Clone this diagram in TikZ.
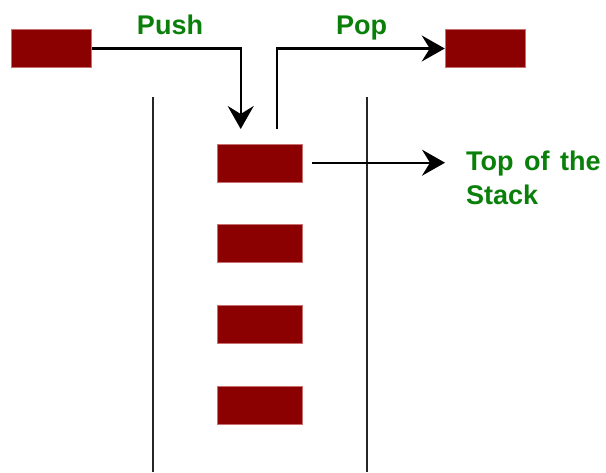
\documentclass[tikz,border=0pt]{standalone}
\usepackage{fontspec}
\setmainfont{Liberation Sans}
\usetikzlibrary{arrows.meta}
\definecolor{boxred}{RGB}{139,0,0}
\definecolor{boxedge}{RGB}{200,110,110}
\definecolor{labgreen}{RGB}{10,128,10}
\newcommand{\mylabfont}{\bfseries\fontsize{27}{34}\selectfont\spaceskip=10.5pt\relax}
\tikzset{
  item/.style={rectangle, fill=boxred, draw=boxedge, line width=0.5pt, minimum width=80pt, minimum height=38pt, inner sep=0pt},
  sitem/.style={item, minimum width=85pt},
  lab/.style={text=labgreen, font=\mylabfont, inner sep=0pt},
  conn/.style={line width=2.2pt, draw=black},
  wall/.style={line width=2.2pt, draw=black!85},
  tip/.style={-{Stealth[length=23pt,width=26pt,inset=8pt]}}
}
\begin{document}
\begin{tikzpicture}[x=1pt,y=-1pt]
\useasboundingbox[fill=white] (0,0) rectangle (606,472);
% walls
\coordinate (wl1) at (153.3,97);
\coordinate (wl2) at (153.3,472);
\coordinate (wr1) at (366.7,97);
\coordinate (wr2) at (366.7,472);
\draw[wall] (wl1) -- (wl2);
\draw[wall] (wr1) -- (wr2);
% outside boxes
\node[item] (lbox) at (51.7,48.5) {};
\node[item] (rbox) at (485,48.5) {};
% stack boxes
\node[sitem] (s1) at (260.2,163) {};
\node[sitem] (s2) at (260.2,243.5) {};
\node[sitem] (s3) at (260.2,324.2) {};
\node[sitem] (s4) at (260.2,405) {};
% labels
\node[lab, anchor=base] (push) at (170,34) {Push};
\node[lab, anchor=base] (pop) at (361.5,34) {Pop};
\node[lab, anchor=base west] (top1) at (466,170) {Top of the};
\node[lab, anchor=base west] (top2) at (466,204) {Stack};
% connectors
\coordinate (pushend) at (240.7,129);
\coordinate (popstart) at (276.7,129);
\coordinate (topstart) at (311.7,162.7);
\coordinate (topend) at (445,162.7);
\draw[conn, tip] (lbox.east) -| (pushend);
\draw[conn, tip] (popstart) |- (rbox.west);
\draw[conn, tip] (topstart) -- (topend);
\end{tikzpicture}
\end{document}
